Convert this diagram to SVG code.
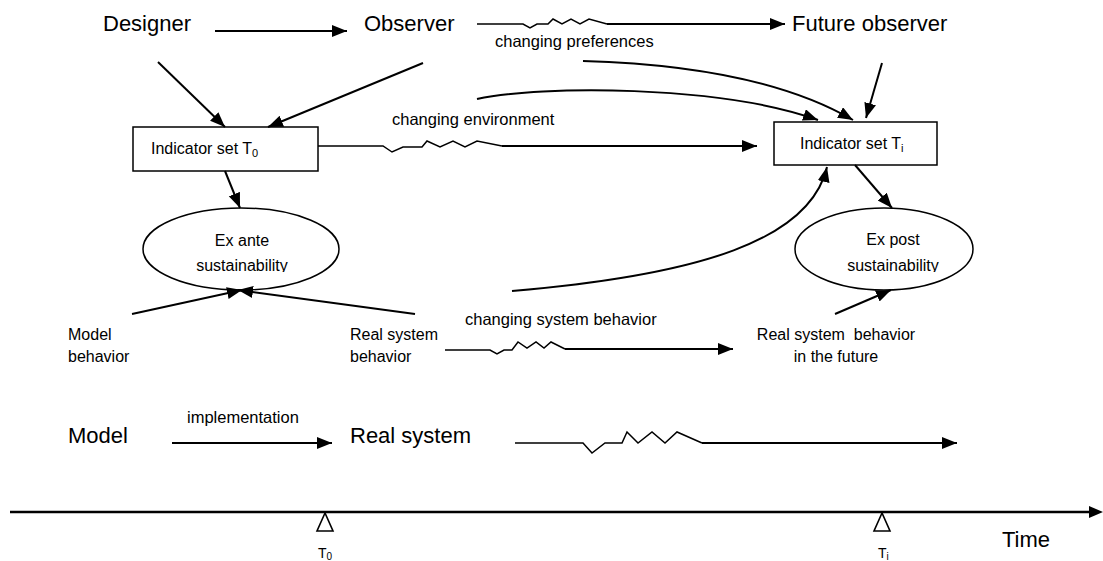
<svg xmlns="http://www.w3.org/2000/svg" width="1103" height="561" viewBox="0 0 1103 561">
<style>
text{font-family:"Liberation Sans",Arial,sans-serif;fill:#000}
.big{font-size:22px}
.mid{font-size:16px}
.lab{font-size:16.5px}
.ln{stroke:#000;stroke-width:2;fill:none}
.zz{stroke:#000;stroke-width:1.5;fill:none;stroke-linejoin:miter}
.box{fill:#fff;stroke:#000;stroke-width:1.5}
.tri{fill:#fff;stroke:#000;stroke-width:1.6}
</style>
<defs>
<marker id="ah" markerUnits="userSpaceOnUse" markerWidth="17" markerHeight="13" refX="15" refY="6" orient="auto">
<path d="M0,0 L15,6 L0,12 z" fill="#000"/>
</marker>
<clipPath id="c1"><rect x="130" y="200" width="230" height="72"/></clipPath>
<clipPath id="c2"><rect x="780" y="200" width="230" height="72"/></clipPath>
</defs>

<g id="designer"><text class="big" x="103" y="31">Designer</text></g>
<g id="observer"><text class="big" x="364" y="31">Observer</text></g>
<g id="future-observer"><text class="big" x="792" y="31">Future observer</text></g>

<g id="indicator-t0">
<rect class="box" x="133" y="127" width="185" height="44"/>
<text class="mid" x="151" y="154">Indicator set T<tspan font-size="11" dy="3">0</tspan></text>
</g>
<g id="indicator-ti">
<rect class="box" x="774" y="122" width="163" height="43"/>
<text class="mid" x="800" y="149">Indicator set T<tspan font-size="11" dy="3">i</tspan></text>
</g>

<g id="ex-ante">
<ellipse cx="241" cy="249" rx="98" ry="41" fill="#fff" stroke="#000" stroke-width="1.5"/>
<text class="mid" x="242" y="246" text-anchor="middle">Ex ante</text>
<text class="mid" x="242" y="271" text-anchor="middle" clip-path="url(#c1)">sustainability</text>
</g>
<g id="ex-post">
<ellipse cx="884" cy="249" rx="89" ry="41" fill="#fff" stroke="#000" stroke-width="1.5"/>
<text class="mid" x="893" y="245" text-anchor="middle">Ex post</text>
<text class="mid" x="893" y="271" text-anchor="middle" clip-path="url(#c2)">sustainability</text>
</g>

<g id="model-behavior">
<text class="mid" x="68" y="340">Model</text>
<text class="mid" x="68" y="362">behavior</text>
</g>
<g id="real-system-behavior">
<text class="mid" x="350" y="340">Real system</text>
<text class="mid" x="350" y="362">behavior</text>
</g>
<g id="real-system-future">
<text class="mid" x="836" y="340" text-anchor="middle" xml:space="preserve">Real system  behavior</text>
<text class="mid" x="836" y="362" text-anchor="middle">in the future</text>
</g>

<g id="model"><text class="big" x="68" y="443">Model</text></g>
<g id="real-system"><text class="big" x="350" y="443">Real system</text></g>

<g id="timeline">
<line x1="10" y1="512" x2="1089" y2="512" stroke="#000" stroke-width="2.5"/>
<path d="M1089,506 L1103,512 L1089,518 z" fill="#000"/>
<path class="tri" d="M325,513 L317,531 L333,531 z"/>
<path class="tri" d="M882,513 L874,531 L890,531 z"/>
<text font-size="14" x="318" y="558">T<tspan font-size="10" dy="2">0</tspan></text>
<text font-size="14" x="878" y="558">T<tspan font-size="10" dy="2">i</tspan></text>
<text class="big" x="1002" y="547">Time</text>
</g>

<g id="connectors">
<line class="ln" x1="215" y1="31" x2="347" y2="31" marker-end="url(#ah)"/>
<polyline class="zz" points="477,24 523,24 530,28 537,24 548,24 553,19 562,24 571,19 580,24 589,19 607,24"/>
<line class="ln" x1="607" y1="24" x2="785" y2="24" marker-end="url(#ah)"/>
<text class="lab" x="495" y="47">changing preferences</text>

<line class="ln" x1="158" y1="62" x2="225" y2="127" marker-end="url(#ah)"/>
<line class="ln" x1="423" y1="63" x2="268" y2="127" marker-end="url(#ah)"/>
<line class="ln" x1="882" y1="63" x2="866" y2="118" marker-end="url(#ah)"/>

<path class="ln" d="M583,61 Q760,66 853,120" marker-end="url(#ah)"/>
<path class="ln" d="M477,99 C540,85 720,85 818,120" marker-end="url(#ah)"/>
<text class="lab" x="392" y="125">changing environment</text>

<polyline class="zz" points="318,146 383,146 392,152 403,147 422,147 427,141 440,147 453,141 465,147 477,141 502,146"/>
<line class="ln" x1="502" y1="146" x2="757" y2="146" marker-end="url(#ah)"/>

<line class="ln" x1="225" y1="171" x2="240" y2="208" marker-end="url(#ah)"/>
<line class="ln" x1="855" y1="165" x2="892" y2="208" marker-end="url(#ah)"/>

<path class="ln" d="M512,291 C700,275 810,240 827,167" marker-end="url(#ah)"/>

<line class="ln" x1="132" y1="314" x2="242" y2="290" marker-end="url(#ah)"/>
<line class="ln" x1="415" y1="314" x2="238" y2="290" marker-end="url(#ah)"/>
<line class="ln" x1="835" y1="314" x2="891" y2="290" marker-end="url(#ah)"/>

<text class="lab" x="465" y="325">changing system behavior</text>
<polyline class="zz" points="445,350 490,350 497,354 504,350 512,350 518,342 527,348 536,342 544,348 551,342 565,349"/>
<line class="ln" x1="565" y1="349" x2="733" y2="349" marker-end="url(#ah)"/>

<text class="lab" x="187" y="423">implementation</text>
<line class="ln" x1="172" y1="443" x2="332" y2="443" marker-end="url(#ah)"/>
<polyline class="zz" points="515,443 583,443 592,453 605,443 622,443 627,432 638,443 652,432 665,443 677,432 702,443"/>
<line class="ln" x1="702" y1="443" x2="957" y2="443" marker-end="url(#ah)"/>
</g>
</svg>
